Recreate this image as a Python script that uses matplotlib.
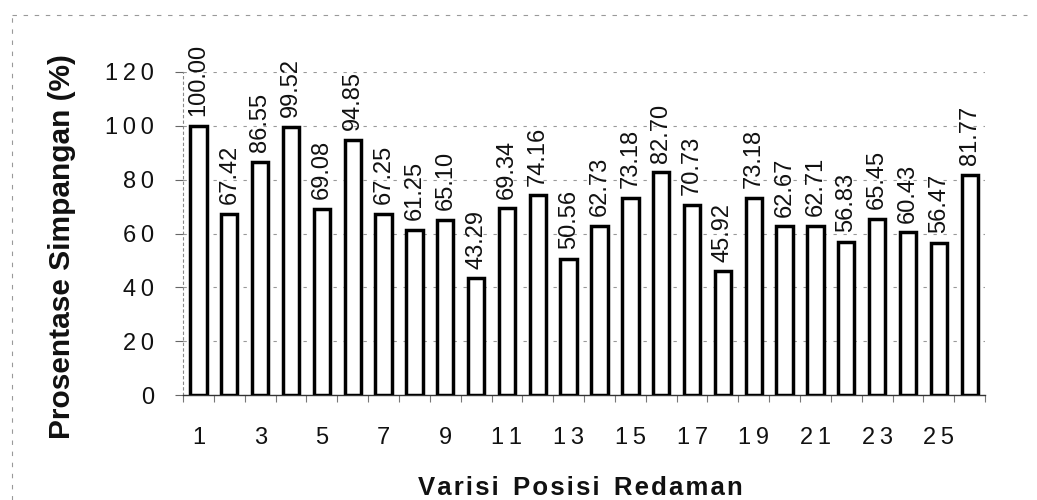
import matplotlib
matplotlib.use("Agg")
import matplotlib.pyplot as plt
import numpy as np

plt.rcParams['font.family'] = ['Liberation Sans', 'DejaVu Sans']

# Damping-position variations and their deviation percentages
positions = list(range(1, 27))
deviation = [100.00, 67.42, 86.55, 99.52, 69.08, 94.85, 67.25, 61.25, 65.10,
             43.29, 69.34, 74.16, 50.56, 62.73, 73.18, 82.70, 70.73, 45.92,
             73.18, 62.67, 62.71, 56.83, 65.45, 60.43, 56.47, 81.77]
value_labels = [f"{v:.2f}" for v in deviation]
y_ticks = [0, 20, 40, 60, 80, 100, 120]
x_tick_positions = list(range(1, 27, 2))
x_tick_labels = [str(p) for p in x_tick_positions]


def spaced(s, sep='\u2009'):
    """Spread the characters of a label apart."""
    return sep.join(s)


fig = plt.figure(figsize=(10.37, 5.0), dpi=100)
fig.patch.set_facecolor('white')
ax = fig.add_axes([0.1765, 0.21, 0.7735, 0.646])

# faint dashed outline of the chart area
fig.add_artist(plt.Line2D([0.012, 0.99], [0.97, 0.97], transform=fig.transFigure,
                          color='#999999', lw=0.8, ls=(0, (4, 6))))
fig.add_artist(plt.Line2D([0.012, 0.012], [0.0, 0.97], transform=fig.transFigure,
                          color='#999999', lw=0.8, ls=(0, (4, 6))))

ax.set_axisbelow(True)
ax.yaxis.grid(True, color='#999999', lw=0.8, ls=(0, (3, 6)))

bars = ax.bar(positions, deviation, width=0.53, color='white',
              edgecolor='black', linewidth=2.5, zorder=3)

for b, txt in zip(bars, value_labels):
    ax.annotate(txt, (b.get_x() + b.get_width() / 2, b.get_height()),
                xytext=(0, 7), textcoords='offset points', rotation=90,
                ha='center', va='bottom', fontsize=17, color='#111111')

ax.set_xlim(0.5, 26.5)
ax.set_ylim(0, 120)
ax.set_yticks(y_ticks)
ax.set_yticklabels([spaced(str(t)) for t in y_ticks], fontsize=17, color='#111111')
ax.set_xticks(x_tick_positions)
ax.set_xticklabels([spaced(t) for t in x_tick_labels], fontsize=17, color='#111111')
ax.set_xticks(np.arange(0.5, 27, 1), minor=True)

ax.tick_params(axis='y', length=6, width=0.8, color='#666666', pad=15)
ax.tick_params(axis='x', which='major', length=0, pad=23)
ax.tick_params(axis='x', which='minor', length=5, width=0.8, color='#777777',
               direction='out')

for s in ['top', 'right']:
    ax.spines[s].set_visible(False)
ax.spines['left'].set_color('#888888')
ax.spines['left'].set_linewidth(0.8)
ax.spines['left'].set_linestyle((0, (2, 3)))
ax.spines['bottom'].set_color('#333333')
ax.spines['bottom'].set_linewidth(1.0)

ax.set_ylabel('Prosentase Simpangan (%)', fontsize=21.5, fontweight='bold',
              color='#111111')
ax.yaxis.set_label_coords(-0.133, 0.46)
ax.set_xlabel('  '.join(spaced(w, '\u200a') for w in ['Varisi', 'Posisi', 'Redaman']),
              fontsize=18.5, fontweight='bold', color='#111111')
ax.xaxis.set_label_coords(0.495, -0.25)

fig.savefig('out.png', dpi=100, facecolor='white')
